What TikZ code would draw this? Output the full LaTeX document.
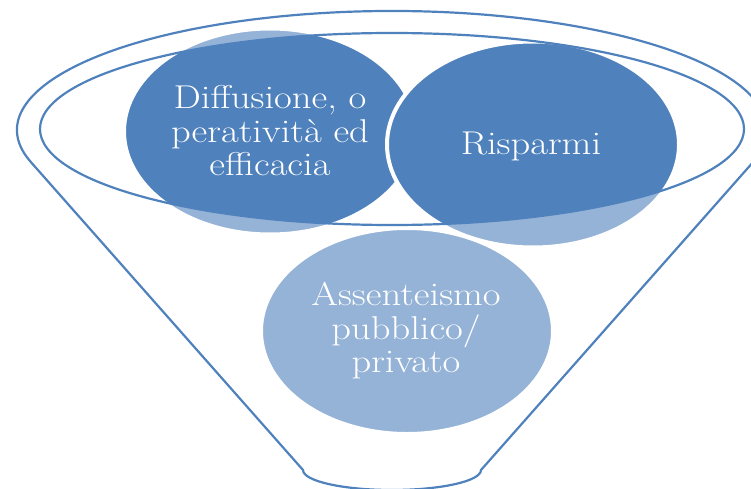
\documentclass[tikz,border=0pt]{standalone}
\usepackage{fontspec}
\setmainfont{lmroman17-regular.otf}[FakeStretch=1.17]
\usepackage{tikz}
\usetikzlibrary{shapes.geometric}
\definecolor{funnelblue}{HTML}{4F81BD}
\definecolor{paleblue}{HTML}{95B3D7}

\begin{document}
\begin{tikzpicture}[x=1pt,y=1pt,
    rim/.style={draw=funnelblue, line width=2.2pt},
    bubble/.style={draw=white, line width=4pt},
    bubble text/.style={text=white, align=center, inner sep=0pt,
        font=\fontsize{33}{33.5}\selectfont}]
    \useasboundingbox (0,0) rectangle (751,488);
    \clip (0,0) rectangle (751,488);
    % centres of the three circles
    \coordinate (c1) at (270,356.5);
    \coordinate (c2) at (533,343.5);
    \coordinate (c3) at (407,157);
    % circles seen through the glass
    \foreach \c in {c3,c1,c2}
        \fill[paleblue, bubble] (\c) ellipse [x radius=146, y radius=103];
    % front part, inside the rim
    \begin{scope}
        \clip (392,359) ellipse [x radius=352, y radius=96];
        \foreach \c in {c1,c2}
            \fill[funnelblue, bubble] (\c) ellipse [x radius=146, y radius=103];
    \end{scope}
    % funnel
    \draw[rim] (303,18) -- ([shift={(195.66:375 and 119)}]392,358)
        arc [start angle=195.66, end angle=-15.66, x radius=375, y radius=119]
        -- (481,18) arc [start angle=0, end angle=-180, x radius=89, y radius=20]
        -- cycle;
    \draw[rim] (392,359) ellipse [x radius=352, y radius=96];
    % labels
    \node[bubble text] (diffusione) at (270,357) {Diffusione, o\\peratività ed\\efficacia};
    \node[bubble text] (risparmi) at (531,342) {Risparmi};
    \node[bubble text] (assenteismo) at (406,157) {Assenteismo\\pubblico/\\privato};
\end{tikzpicture}
\end{document}
